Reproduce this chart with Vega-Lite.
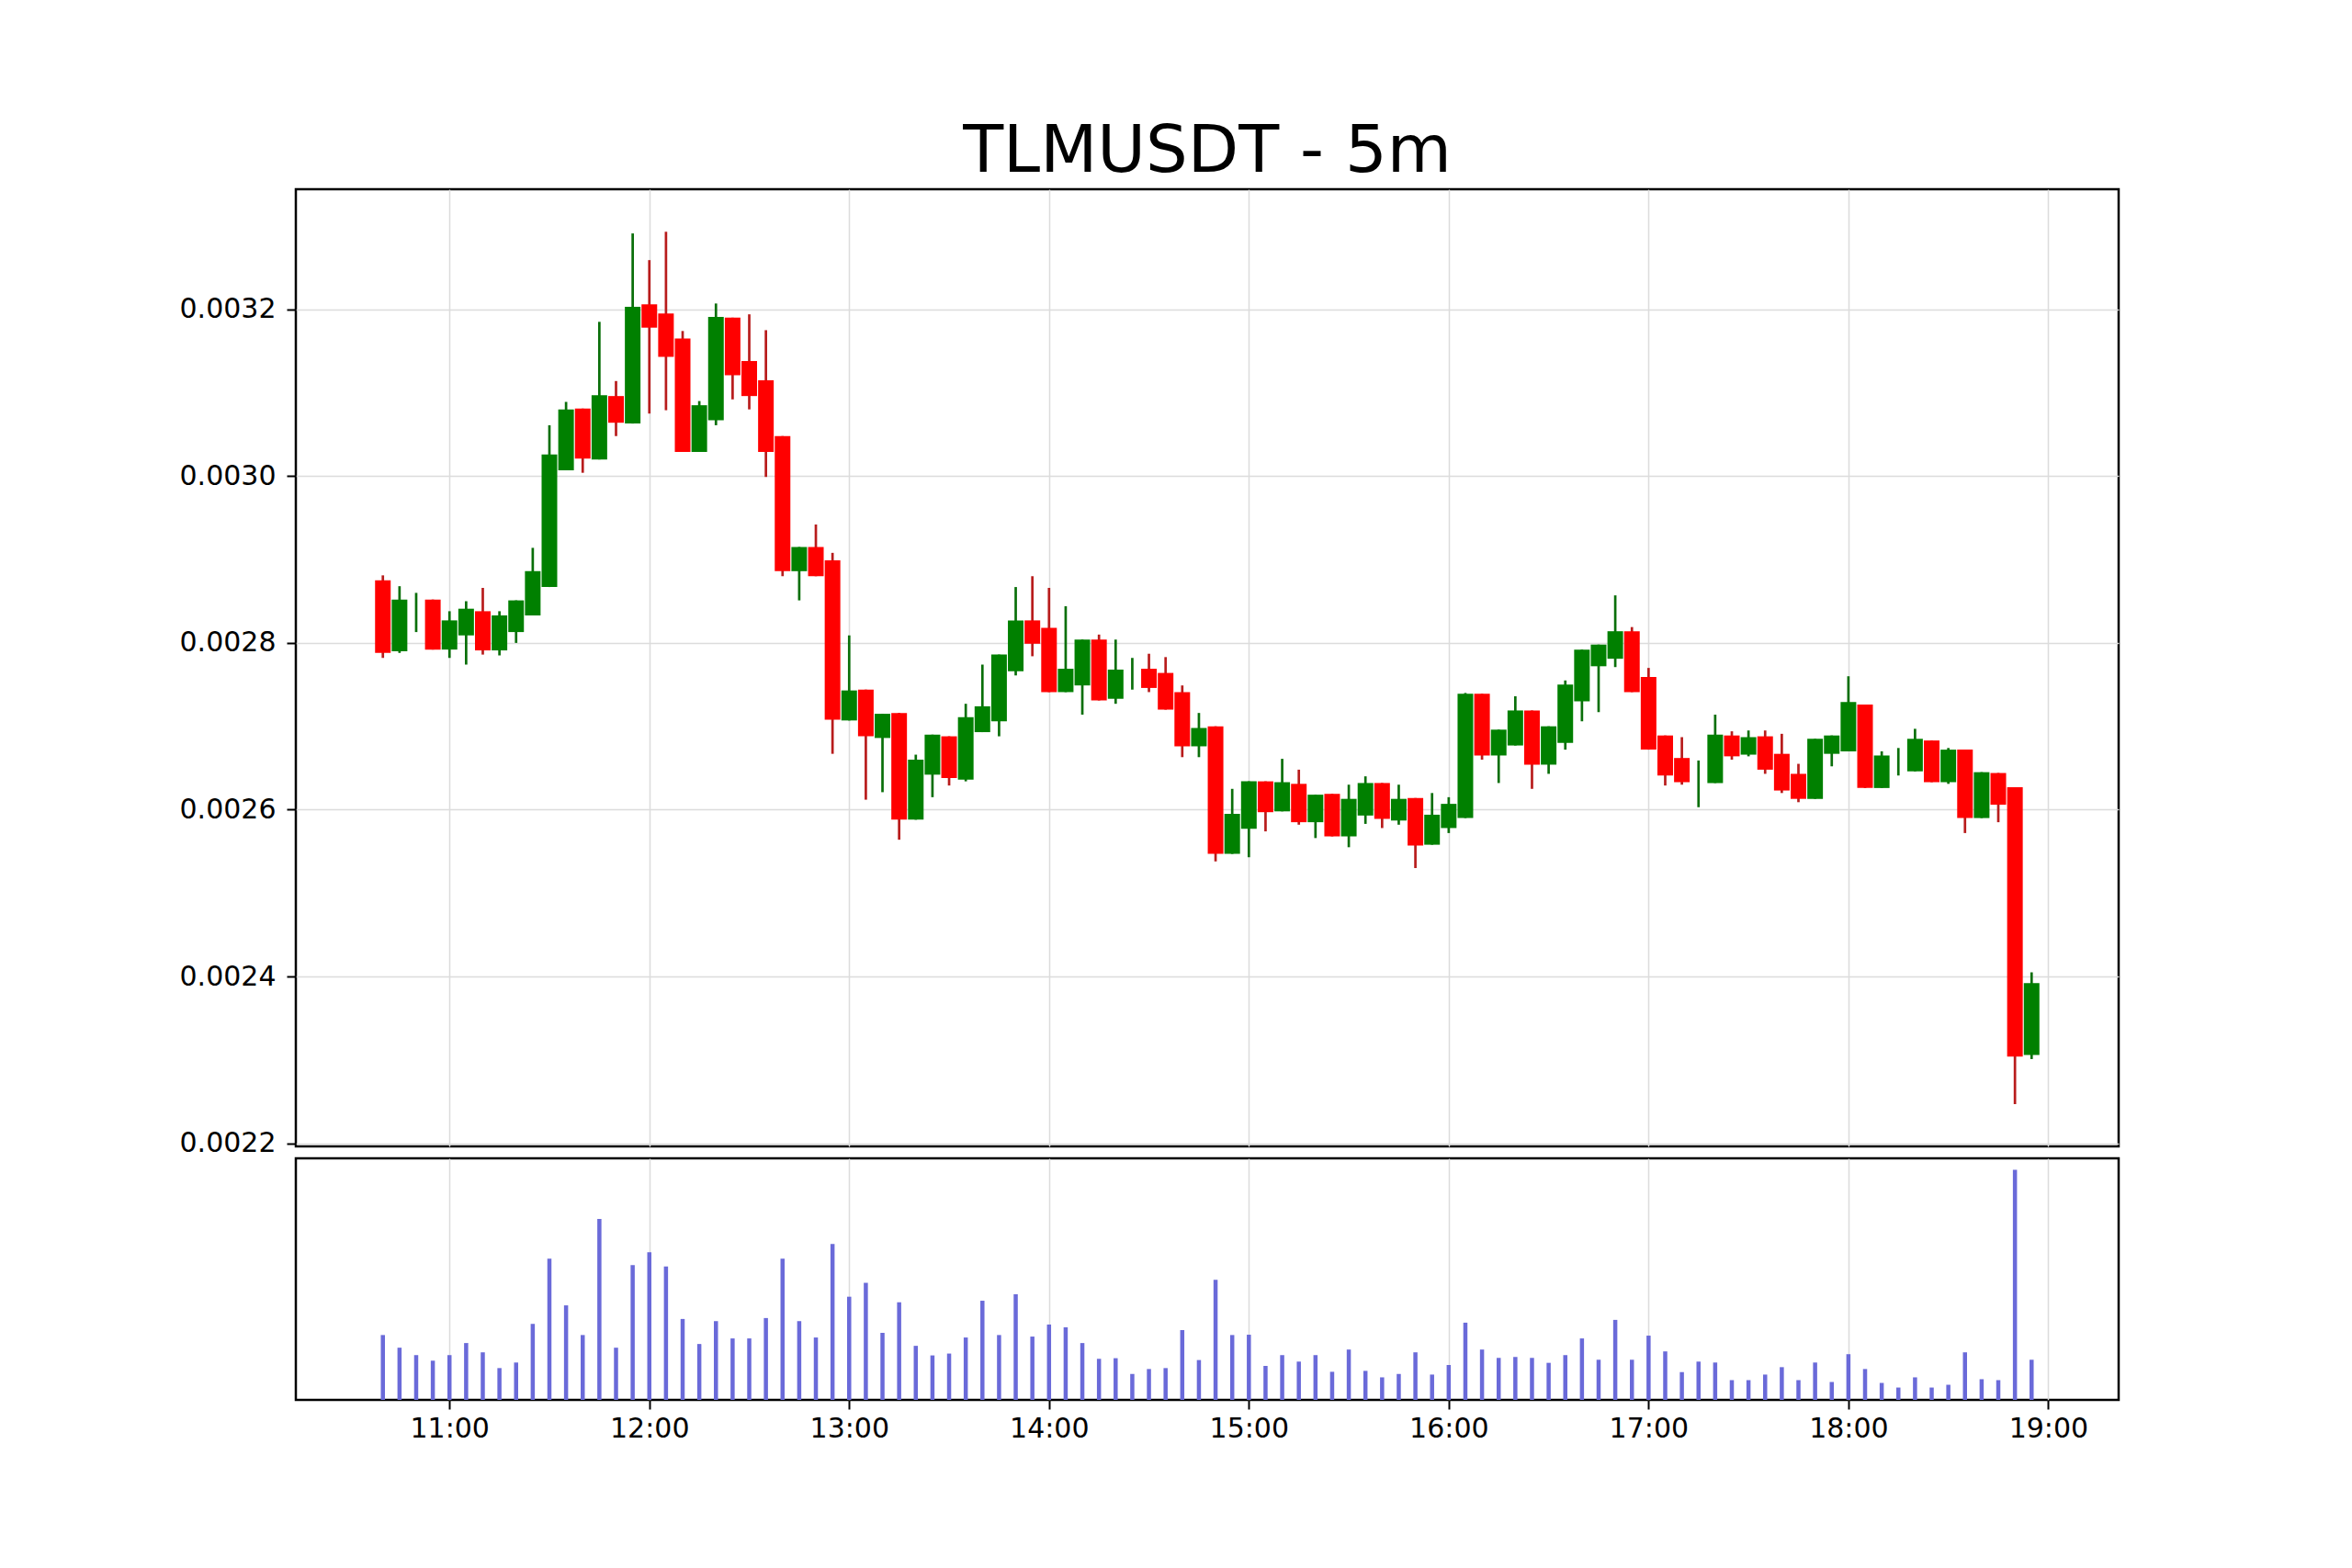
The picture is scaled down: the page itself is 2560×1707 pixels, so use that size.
{
  "$schema": "https://vega.github.io/schema/vega-lite/v6.json",
  "background": "white",
  "padding": {"left": 193, "top": 127, "right": 20, "bottom": 20},
  "datasets": {
    "ohlc": [
      {"t": "2024-01-01T10:40:00", "open": 0.002875, "high": 0.002881, "low": 0.002782, "close": 0.002788, "volume": 210},
      {"t": "2024-01-01T10:45:00", "open": 0.002790, "high": 0.002868, "low": 0.002788, "close": 0.002852, "volume": 169},
      {"t": "2024-01-01T10:50:00", "open": 0.002835, "high": 0.002860, "low": 0.002813, "close": 0.002835, "volume": 145},
      {"t": "2024-01-01T10:55:00", "open": 0.002852, "high": 0.002852, "low": 0.002792, "close": 0.002792, "volume": 127},
      {"t": "2024-01-01T11:00:00", "open": 0.002792, "high": 0.002838, "low": 0.002782, "close": 0.002827, "volume": 145},
      {"t": "2024-01-01T11:05:00", "open": 0.002809, "high": 0.002850, "low": 0.002774, "close": 0.002841, "volume": 184},
      {"t": "2024-01-01T11:10:00", "open": 0.002838, "high": 0.002866, "low": 0.002786, "close": 0.002791, "volume": 154},
      {"t": "2024-01-01T11:15:00", "open": 0.002791, "high": 0.002838, "low": 0.002785, "close": 0.002833, "volume": 103},
      {"t": "2024-01-01T11:20:00", "open": 0.002813, "high": 0.002851, "low": 0.002800, "close": 0.002851, "volume": 121},
      {"t": "2024-01-01T11:25:00", "open": 0.002833, "high": 0.002914, "low": 0.002833, "close": 0.002886, "volume": 246},
      {"t": "2024-01-01T11:30:00", "open": 0.002867, "high": 0.003061, "low": 0.002867, "close": 0.003026, "volume": 457},
      {"t": "2024-01-01T11:35:00", "open": 0.003007, "high": 0.003089, "low": 0.003007, "close": 0.003080, "volume": 306},
      {"t": "2024-01-01T11:40:00", "open": 0.003081, "high": 0.003081, "low": 0.003004, "close": 0.003021, "volume": 210},
      {"t": "2024-01-01T11:45:00", "open": 0.003020, "high": 0.003185, "low": 0.003020, "close": 0.003097, "volume": 586},
      {"t": "2024-01-01T11:50:00", "open": 0.003096, "high": 0.003114, "low": 0.003048, "close": 0.003064, "volume": 169},
      {"t": "2024-01-01T11:55:00", "open": 0.003063, "high": 0.003291, "low": 0.003063, "close": 0.003203, "volume": 436},
      {"t": "2024-01-01T12:00:00", "open": 0.003206, "high": 0.003259, "low": 0.003075, "close": 0.003178, "volume": 478},
      {"t": "2024-01-01T12:05:00", "open": 0.003195, "high": 0.003293, "low": 0.003079, "close": 0.003143, "volume": 432},
      {"t": "2024-01-01T12:10:00", "open": 0.003165, "high": 0.003174, "low": 0.003029, "close": 0.003029, "volume": 262},
      {"t": "2024-01-01T12:15:00", "open": 0.003029, "high": 0.003090, "low": 0.003029, "close": 0.003085, "volume": 181},
      {"t": "2024-01-01T12:20:00", "open": 0.003067, "high": 0.003207, "low": 0.003061, "close": 0.003191, "volume": 255},
      {"t": "2024-01-01T12:25:00", "open": 0.003190, "high": 0.003190, "low": 0.003092, "close": 0.003121, "volume": 199},
      {"t": "2024-01-01T12:30:00", "open": 0.003138, "high": 0.003194, "low": 0.003080, "close": 0.003096, "volume": 199},
      {"t": "2024-01-01T12:35:00", "open": 0.003115, "high": 0.003175, "low": 0.002999, "close": 0.003029, "volume": 265},
      {"t": "2024-01-01T12:40:00", "open": 0.003048, "high": 0.003048, "low": 0.002880, "close": 0.002886, "volume": 457},
      {"t": "2024-01-01T12:45:00", "open": 0.002886, "high": 0.002915, "low": 0.002851, "close": 0.002915, "volume": 255},
      {"t": "2024-01-01T12:50:00", "open": 0.002915, "high": 0.002942, "low": 0.002880, "close": 0.002880, "volume": 202},
      {"t": "2024-01-01T12:55:00", "open": 0.002899, "high": 0.002908, "low": 0.002667, "close": 0.002708, "volume": 505},
      {"t": "2024-01-01T13:00:00", "open": 0.002707, "high": 0.002809, "low": 0.002707, "close": 0.002743, "volume": 334},
      {"t": "2024-01-01T13:05:00", "open": 0.002744, "high": 0.002744, "low": 0.002612, "close": 0.002688, "volume": 379},
      {"t": "2024-01-01T13:10:00", "open": 0.002686, "high": 0.002715, "low": 0.002621, "close": 0.002715, "volume": 217},
      {"t": "2024-01-01T13:15:00", "open": 0.002716, "high": 0.002716, "low": 0.002564, "close": 0.002588, "volume": 316},
      {"t": "2024-01-01T13:20:00", "open": 0.002588, "high": 0.002666, "low": 0.002588, "close": 0.002660, "volume": 175},
      {"t": "2024-01-01T13:25:00", "open": 0.002642, "high": 0.002690, "low": 0.002615, "close": 0.002690, "volume": 144},
      {"t": "2024-01-01T13:30:00", "open": 0.002688, "high": 0.002688, "low": 0.002629, "close": 0.002638, "volume": 150},
      {"t": "2024-01-01T13:35:00", "open": 0.002636, "high": 0.002727, "low": 0.002634, "close": 0.002711, "volume": 202},
      {"t": "2024-01-01T13:40:00", "open": 0.002693, "high": 0.002774, "low": 0.002693, "close": 0.002724, "volume": 321},
      {"t": "2024-01-01T13:45:00", "open": 0.002706, "high": 0.002786, "low": 0.002688, "close": 0.002786, "volume": 210},
      {"t": "2024-01-01T13:50:00", "open": 0.002766, "high": 0.002867, "low": 0.002761, "close": 0.002827, "volume": 342},
      {"t": "2024-01-01T13:55:00", "open": 0.002827, "high": 0.002880, "low": 0.002784, "close": 0.002799, "volume": 205},
      {"t": "2024-01-01T14:00:00", "open": 0.002818, "high": 0.002866, "low": 0.002741, "close": 0.002741, "volume": 244},
      {"t": "2024-01-01T14:05:00", "open": 0.002741, "high": 0.002844, "low": 0.002741, "close": 0.002769, "volume": 235},
      {"t": "2024-01-01T14:10:00", "open": 0.002749, "high": 0.002804, "low": 0.002714, "close": 0.002804, "volume": 184},
      {"t": "2024-01-01T14:15:00", "open": 0.002804, "high": 0.002810, "low": 0.002731, "close": 0.002731, "volume": 133},
      {"t": "2024-01-01T14:20:00", "open": 0.002733, "high": 0.002804, "low": 0.002727, "close": 0.002768, "volume": 135},
      {"t": "2024-01-01T14:25:00", "open": 0.002756, "high": 0.002782, "low": 0.002744, "close": 0.002756, "volume": 84},
      {"t": "2024-01-01T14:30:00", "open": 0.002769, "high": 0.002787, "low": 0.002741, "close": 0.002746, "volume": 100},
      {"t": "2024-01-01T14:35:00", "open": 0.002764, "high": 0.002783, "low": 0.002720, "close": 0.002720, "volume": 103},
      {"t": "2024-01-01T14:40:00", "open": 0.002741, "high": 0.002749, "low": 0.002663, "close": 0.002676, "volume": 226},
      {"t": "2024-01-01T14:45:00", "open": 0.002676, "high": 0.002716, "low": 0.002663, "close": 0.002698, "volume": 129},
      {"t": "2024-01-01T14:50:00", "open": 0.002700, "high": 0.002700, "low": 0.002538, "close": 0.002547, "volume": 389},
      {"t": "2024-01-01T14:55:00", "open": 0.002547, "high": 0.002625, "low": 0.002547, "close": 0.002595, "volume": 210},
      {"t": "2024-01-01T15:00:00", "open": 0.002577, "high": 0.002634, "low": 0.002543, "close": 0.002634, "volume": 211},
      {"t": "2024-01-01T15:05:00", "open": 0.002634, "high": 0.002634, "low": 0.002574, "close": 0.002597, "volume": 110},
      {"t": "2024-01-01T15:10:00", "open": 0.002598, "high": 0.002661, "low": 0.002598, "close": 0.002633, "volume": 145},
      {"t": "2024-01-01T15:15:00", "open": 0.002631, "high": 0.002648, "low": 0.002582, "close": 0.002585, "volume": 124},
      {"t": "2024-01-01T15:20:00", "open": 0.002585, "high": 0.002618, "low": 0.002566, "close": 0.002618, "volume": 145},
      {"t": "2024-01-01T15:25:00", "open": 0.002619, "high": 0.002619, "low": 0.002568, "close": 0.002568, "volume": 91},
      {"t": "2024-01-01T15:30:00", "open": 0.002568, "high": 0.002630, "low": 0.002555, "close": 0.002613, "volume": 163},
      {"t": "2024-01-01T15:35:00", "open": 0.002593, "high": 0.002640, "low": 0.002583, "close": 0.002632, "volume": 94},
      {"t": "2024-01-01T15:40:00", "open": 0.002632, "high": 0.002632, "low": 0.002578, "close": 0.002589, "volume": 73},
      {"t": "2024-01-01T15:45:00", "open": 0.002587, "high": 0.002630, "low": 0.002582, "close": 0.002613, "volume": 84},
      {"t": "2024-01-01T15:50:00", "open": 0.002614, "high": 0.002614, "low": 0.002530, "close": 0.002557, "volume": 154},
      {"t": "2024-01-01T15:55:00", "open": 0.002558, "high": 0.002620, "low": 0.002558, "close": 0.002594, "volume": 82},
      {"t": "2024-01-01T16:00:00", "open": 0.002578, "high": 0.002615, "low": 0.002572, "close": 0.002607, "volume": 113},
      {"t": "2024-01-01T16:05:00", "open": 0.002590, "high": 0.002740, "low": 0.002590, "close": 0.002739, "volume": 250},
      {"t": "2024-01-01T16:10:00", "open": 0.002739, "high": 0.002739, "low": 0.002660, "close": 0.002665, "volume": 163},
      {"t": "2024-01-01T16:15:00", "open": 0.002665, "high": 0.002696, "low": 0.002632, "close": 0.002696, "volume": 136},
      {"t": "2024-01-01T16:20:00", "open": 0.002677, "high": 0.002736, "low": 0.002677, "close": 0.002719, "volume": 139},
      {"t": "2024-01-01T16:25:00", "open": 0.002719, "high": 0.002719, "low": 0.002625, "close": 0.002654, "volume": 136},
      {"t": "2024-01-01T16:30:00", "open": 0.002654, "high": 0.002700, "low": 0.002643, "close": 0.002700, "volume": 120},
      {"t": "2024-01-01T16:35:00", "open": 0.002680, "high": 0.002755, "low": 0.002672, "close": 0.002750, "volume": 145},
      {"t": "2024-01-01T16:40:00", "open": 0.002730, "high": 0.002792, "low": 0.002706, "close": 0.002792, "volume": 199},
      {"t": "2024-01-01T16:45:00", "open": 0.002772, "high": 0.002798, "low": 0.002717, "close": 0.002798, "volume": 130},
      {"t": "2024-01-01T16:50:00", "open": 0.002781, "high": 0.002857, "low": 0.002771, "close": 0.002814, "volume": 259},
      {"t": "2024-01-01T16:55:00", "open": 0.002814, "high": 0.002819, "low": 0.002741, "close": 0.002741, "volume": 130},
      {"t": "2024-01-01T17:00:00", "open": 0.002759, "high": 0.002770, "low": 0.002672, "close": 0.002672, "volume": 208},
      {"t": "2024-01-01T17:05:00", "open": 0.002689, "high": 0.002689, "low": 0.002629, "close": 0.002641, "volume": 157},
      {"t": "2024-01-01T17:10:00", "open": 0.002662, "high": 0.002687, "low": 0.002630, "close": 0.002633, "volume": 90},
      {"t": "2024-01-01T17:15:00", "open": 0.002632, "high": 0.002659, "low": 0.002603, "close": 0.002632, "volume": 124},
      {"t": "2024-01-01T17:20:00", "open": 0.002632, "high": 0.002714, "low": 0.002632, "close": 0.002690, "volume": 121},
      {"t": "2024-01-01T17:25:00", "open": 0.002689, "high": 0.002694, "low": 0.002660, "close": 0.002664, "volume": 64},
      {"t": "2024-01-01T17:30:00", "open": 0.002666, "high": 0.002695, "low": 0.002664, "close": 0.002687, "volume": 64},
      {"t": "2024-01-01T17:35:00", "open": 0.002688, "high": 0.002695, "low": 0.002643, "close": 0.002648, "volume": 82},
      {"t": "2024-01-01T17:40:00", "open": 0.002667, "high": 0.002691, "low": 0.002620, "close": 0.002623, "volume": 106},
      {"t": "2024-01-01T17:45:00", "open": 0.002643, "high": 0.002655, "low": 0.002609, "close": 0.002613, "volume": 64},
      {"t": "2024-01-01T17:50:00", "open": 0.002613, "high": 0.002685, "low": 0.002613, "close": 0.002685, "volume": 121},
      {"t": "2024-01-01T17:55:00", "open": 0.002667, "high": 0.002689, "low": 0.002652, "close": 0.002689, "volume": 58},
      {"t": "2024-01-01T18:00:00", "open": 0.002670, "high": 0.002760, "low": 0.002670, "close": 0.002729, "volume": 148},
      {"t": "2024-01-01T18:05:00", "open": 0.002726, "high": 0.002726, "low": 0.002626, "close": 0.002626, "volume": 100},
      {"t": "2024-01-01T18:10:00", "open": 0.002626, "high": 0.002670, "low": 0.002626, "close": 0.002665, "volume": 55},
      {"t": "2024-01-01T18:15:00", "open": 0.002658, "high": 0.002674, "low": 0.002641, "close": 0.002658, "volume": 40},
      {"t": "2024-01-01T18:20:00", "open": 0.002646, "high": 0.002697, "low": 0.002646, "close": 0.002685, "volume": 73},
      {"t": "2024-01-01T18:25:00", "open": 0.002683, "high": 0.002683, "low": 0.002633, "close": 0.002633, "volume": 40},
      {"t": "2024-01-01T18:30:00", "open": 0.002633, "high": 0.002674, "low": 0.002631, "close": 0.002672, "volume": 49},
      {"t": "2024-01-01T18:35:00", "open": 0.002672, "high": 0.002672, "low": 0.002572, "close": 0.002590, "volume": 154},
      {"t": "2024-01-01T18:40:00", "open": 0.002590, "high": 0.002645, "low": 0.002590, "close": 0.002645, "volume": 67},
      {"t": "2024-01-01T18:45:00", "open": 0.002644, "high": 0.002644, "low": 0.002585, "close": 0.002606, "volume": 64},
      {"t": "2024-01-01T18:50:00", "open": 0.002627, "high": 0.002627, "low": 0.002247, "close": 0.002304, "volume": 745},
      {"t": "2024-01-01T18:55:00", "open": 0.002306, "high": 0.002405, "low": 0.002301, "close": 0.002392, "volume": 130}
    ]
  },
  "spacing": -6,
  "vconcat": [
    {
      "width": 1984,
      "height": 1042,
      "title": {
        "text": "TLMUSDT - 5m",
        "anchor": "middle",
        "font": "DejaVu Sans",
        "fontSize": 72,
        "fontWeight": "normal",
        "color": "black",
        "offset": 4
      },
      "data": {"name": "ohlc"},
      "encoding": {
        "x": {
          "field": "t",
          "type": "temporal",
          "scale": {
            "domain": [
              {"year": 2024, "month": 1, "date": 1, "hours": 10, "minutes": 15, "seconds": 15},
              {"year": 2024, "month": 1, "date": 1, "hours": 19, "minutes": 19, "seconds": 45}
            ]
          },
          "axis": {
            "title": null,
            "labels": false,
            "ticks": false,
            "grid": true,
            "tickCount": "hour",
            "minExtent": 0,
            "maxExtent": 0
          }
        }
      },
      "layer": [
        {
          "mark": {"type": "rule", "strokeWidth": 2.7},
          "encoding": {
            "y": {
              "field": "low",
              "type": "quantitative",
              "scale": {"domain": [0.0021963, 0.003344], "zero": false, "nice": false},
              "axis": {
                "title": null,
                "format": ".4f",
                "values": [0.0022, 0.0024, 0.0026, 0.0028, 0.003, 0.0032],
                "grid": true,
                "minExtent": 127,
                "maxExtent": 127
              }
            },
            "y2": {"field": "high"},
            "color": {
              "condition": {"test": "datum.open > datum.close", "value": "#b81c1c"},
              "value": "#0a6f0a"
            }
          }
        },
        {
          "mark": {"type": "bar", "width": 17},
          "encoding": {
            "y": {"field": "open", "type": "quantitative"},
            "y2": {"field": "close"},
            "color": {
              "condition": {"test": "datum.open > datum.close", "value": "#ff0000"},
              "value": "#008000"
            }
          }
        }
      ]
    },
    {
      "width": 1984,
      "height": 263,
      "data": {"name": "ohlc"},
      "mark": {"type": "bar", "width": 4.5, "color": "#6a6ad9"},
      "encoding": {
        "x": {
          "field": "t",
          "type": "temporal",
          "scale": {
            "domain": [
              {"year": 2024, "month": 1, "date": 1, "hours": 10, "minutes": 15, "seconds": 15},
              {"year": 2024, "month": 1, "date": 1, "hours": 19, "minutes": 19, "seconds": 45}
            ]
          },
          "axis": {
            "title": null,
            "format": "%H:%M",
            "grid": true,
            "tickCount": "hour",
            "labelPadding": 6
          }
        },
        "y": {
          "field": "volume",
          "type": "quantitative",
          "scale": {"domain": [0, 782], "nice": false},
          "axis": {
            "title": null,
            "labels": false,
            "ticks": false,
            "grid": false,
            "minExtent": 127,
            "maxExtent": 127
          }
        }
      }
    }
  ],
  "config": {
    "view": {"stroke": "black", "strokeWidth": 2.5},
    "axis": {
      "domain": false,
      "gridColor": "#dcdcdc",
      "gridWidth": 1.5,
      "labelFont": "DejaVu Sans",
      "labelFontSize": 30,
      "labelColor": "black",
      "tickColor": "black",
      "tickSize": 10,
      "tickWidth": 2,
      "labelPadding": 12
    }
  }
}
